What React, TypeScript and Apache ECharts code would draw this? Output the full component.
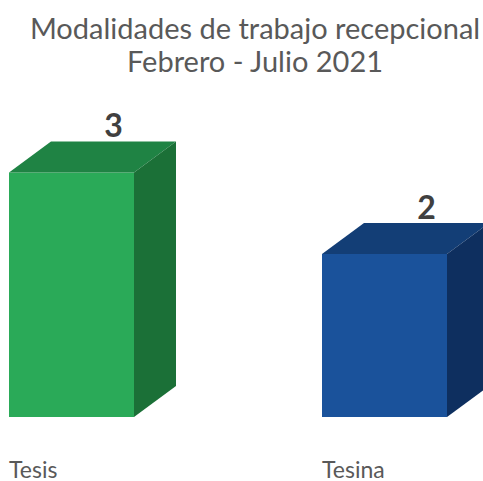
import React, { useEffect, useRef } from "react";
import * as echarts from "echarts";

const categories = ["Tesis", "Tesina"];
const values = [3, 2];
const frontColors = ["#2AAA58", "#1A529B"];
const topColors = ["#1F8344", "#133E76"];
const sideColors = ["#1B7037", "#0E2F5F"];

const FONT = "Lato, 'Open Sans', sans-serif";

export default function App() {
  const ref = useRef<HTMLDivElement>(null);
  useEffect(() => {
    if (!ref.current) return;
    document.body.style.margin = "0";
    const chart = echarts.init(ref.current, undefined, { renderer: "svg" });
    const W = 125;
    const DX = 42;
    const DY = 31;
    chart.setOption({
      animation: false,
      backgroundColor: "#ffffff",
      title: {
        text: "Modalidades de trabajo recepcional\nFebrero - Julio 2021",
        left: 250,
        top: 6,
        textAlign: "center",
        textStyle: {
          fontFamily: FONT,
          fontSize: 29,
          fontWeight: "normal",
          color: "#595959",
          lineHeight: 33,
        },
      },
      grid: { left: 9, right: 161, top: 91, bottom: 64 },
      xAxis: {
        type: "category",
        data: categories,
        boundaryGap: false,
        axisLine: { show: false },
        axisTick: { show: false },
        splitLine: { show: false },
        axisLabel: {
          align: "left",
          margin: 40,
          fontFamily: FONT,
          fontSize: 23,
          lineHeight: 23,
          color: "#595959",
        },
      },
      yAxis: {
        type: "value",
        min: 0,
        max: 4,
        show: false,
        splitLine: { show: false },
      },
      series: [
        {
          type: "custom",
          data: values.map((v, i) => [i, v]),
          encode: { x: 0, y: 1 },
          clip: false,
          renderItem: (params: any, api: any) => {
            const idx = params.dataIndex;
            const p = api.coord([api.value(0), api.value(1)]);
            const p0 = api.coord([api.value(0), 0]);
            const x = p[0];
            const y = p[1];
            const y0 = p0[1];
            return {
              type: "group",
              children: [
                {
                  type: "rect",
                  shape: { x: x, y: y, width: W, height: y0 - y },
                  style: { fill: frontColors[idx] },
                },
                {
                  type: "polygon",
                  shape: {
                    points: [
                      [x, y],
                      [x + W, y],
                      [x + W + DX, y - DY],
                      [x + DX, y - DY],
                    ],
                  },
                  style: { fill: topColors[idx] },
                },
                {
                  type: "polygon",
                  shape: {
                    points: [
                      [x + W, y],
                      [x + W + DX, y - DY],
                      [x + W + DX, y0 - DY],
                      [x + W, y0],
                    ],
                  },
                  style: { fill: sideColors[idx] },
                },
                {
                  type: "text",
                  style: {
                    text: String(api.value(1)),
                    x: x + DX + W / 2,
                    y: y - DY - 1,
                    textAlign: "center",
                    textVerticalAlign: "bottom",
                    fontFamily: FONT,
                    fontSize: 32,
                    fontWeight: "bold",
                    fill: "#404040",
                  },
                },
              ],
            };
          },
        },
      ],
    });
    return () => chart.dispose();
  }, []);
  return <div ref={ref} style={{ width: 483, height: 481 }} />;
}
